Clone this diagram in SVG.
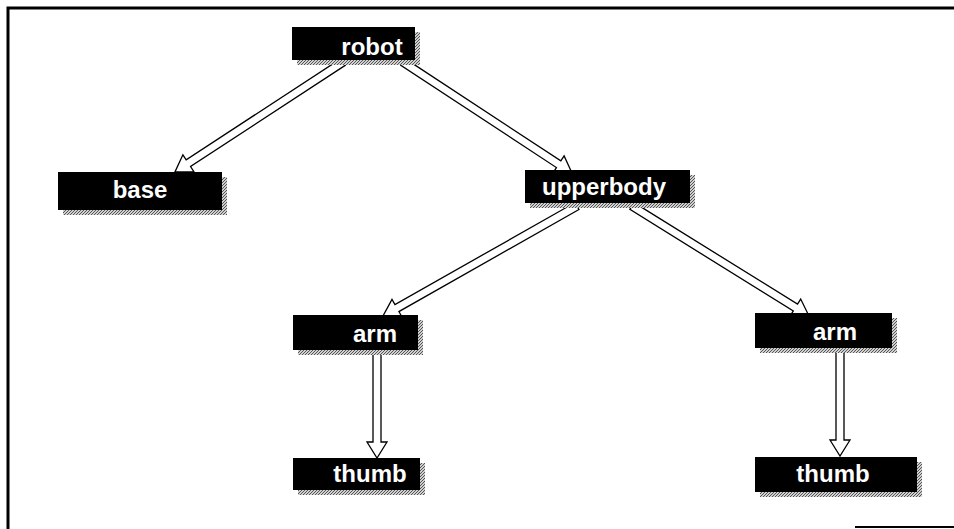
<svg xmlns="http://www.w3.org/2000/svg" width="954" height="529" viewBox="0 0 954 529">
<defs>
<pattern id="hatch" width="3" height="3" patternUnits="userSpaceOnUse">
<rect width="3" height="3" fill="#d0d0d0"/>
<path d="M0,3 L3,0" stroke="#555" stroke-width="1"/>
</pattern>
<style>
.box{fill:#000}
.sh{fill:url(#hatch)}
.lbl{fill:#fff;font-family:"Liberation Sans",Arial,sans-serif;font-weight:bold;font-size:24px;text-anchor:middle}
.arr{fill:#fff;stroke:#000;stroke-width:1.3;stroke-linejoin:miter}
.frame{stroke:#000;stroke-width:3;fill:none}
</style>
</defs>
<rect width="954" height="529" fill="#fff"/>
<g id="frame">
<path class="frame" d="M8,529 L8,8 L954,8"/>
<path d="M855,527 L954,527" stroke="#000" stroke-width="2"/>
</g>
<g id="connectors">
<polygon class="arr" transform="translate(343,62) rotate(146.8)" points="0,-4 184.8,-4 184.8,-10 200.8,0 184.8,10 184.8,4 0,4"/>
<polygon class="arr" transform="translate(403,62) rotate(33.3)" points="0,-4 186.2,-4 186.2,-10 202.2,0 186.2,10 186.2,4 0,4"/>
<polygon class="arr" transform="translate(577,206) rotate(150.45)" points="0,-4 207,-4 207,-10 223,0 207,10 207,4 0,4"/>
<polygon class="arr" transform="translate(632,206) rotate(31.86)" points="0,-4 192.4,-4 192.4,-10 208.4,0 192.4,10 192.4,4 0,4"/>
<polygon class="arr" transform="translate(377,350) rotate(90)" points="0,-4 92,-4 92,-10 108,0 92,10 92,4 0,4"/>
<polygon class="arr" transform="translate(840,350) rotate(90)" points="0,-4 90,-4 90,-10 106,0 90,10 90,4 0,4"/>
</g>
<g id="robot">
<rect class="sh" x="297" y="32" width="123" height="33"/>
<rect class="box" x="292" y="27" width="123" height="33"/>
<text class="lbl" x="372" y="55">robot</text>
</g>
<g id="base">
<rect class="sh" x="63" y="177" width="164" height="38"/>
<rect class="box" x="58" y="172" width="164" height="38"/>
<text class="lbl" x="140" y="198">base</text>
</g>
<g id="upperbody">
<rect class="sh" x="530" y="175" width="165" height="33"/>
<rect class="box" x="525" y="170" width="165" height="33"/>
<text class="lbl" x="604" y="195">upperbody</text>
</g>
<g id="arm1">
<rect class="sh" x="298" y="320" width="125" height="35"/>
<rect class="box" x="293" y="315" width="125" height="35"/>
<text class="lbl" x="375" y="342">arm</text>
</g>
<g id="arm2">
<rect class="sh" x="760" y="318" width="137" height="35"/>
<rect class="box" x="755" y="313" width="137" height="35"/>
<text class="lbl" x="835" y="340">arm</text>
</g>
<g id="thumb1">
<rect class="sh" x="298" y="463" width="127" height="32"/>
<rect class="box" x="293" y="458" width="127" height="32"/>
<text class="lbl" x="370" y="482">thumb</text>
</g>
<g id="thumb2">
<rect class="sh" x="760" y="462" width="162" height="35"/>
<rect class="box" x="755" y="457" width="162" height="35"/>
<text class="lbl" x="833" y="482">thumb</text>
</g>
</svg>
